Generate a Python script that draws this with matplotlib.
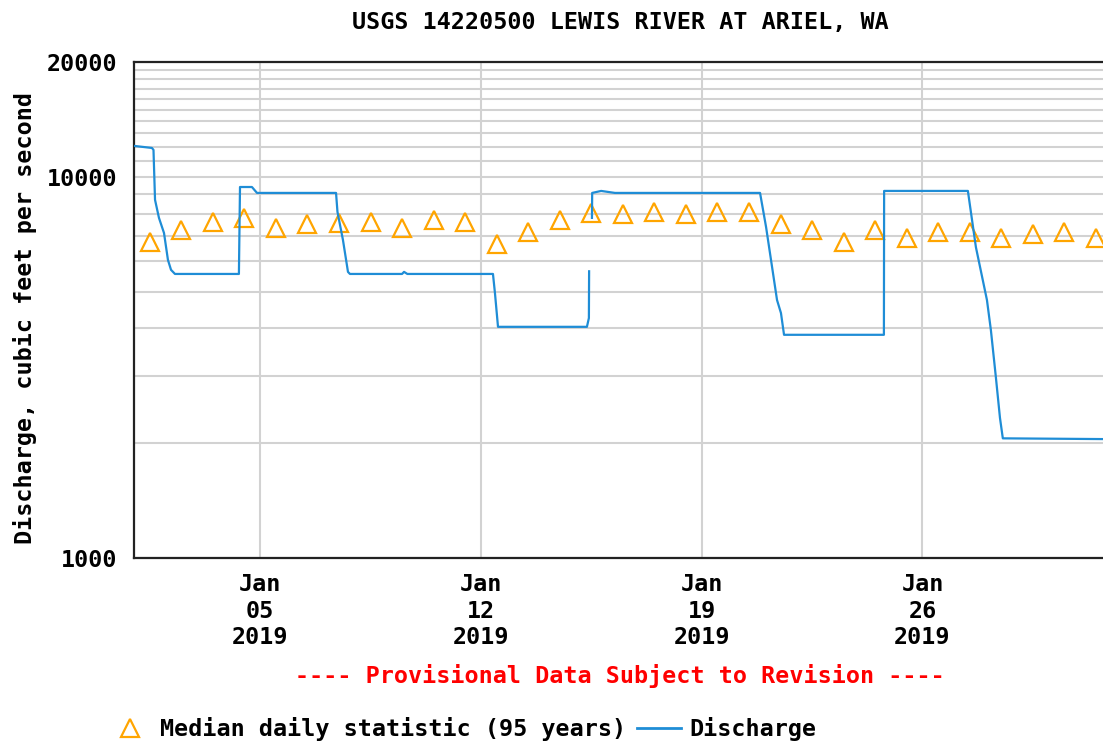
import numpy as np
import pandas as pd
import matplotlib
matplotlib.use('Agg')
import matplotlib.pyplot as plt
from matplotlib.lines import Line2D
from matplotlib.ticker import FixedLocator, NullFormatter

# Andmed (loetud pildilt)
q_times = [
    "2019-01-01 00:00", "2019-01-01 13:40", "2019-01-01 14:50", "2019-01-01 16:00",
    "2019-01-01 19:00", "2019-01-01 22:50", "2019-01-02 01:50", "2019-01-02 04:10",
    "2019-01-02 07:10", "2019-01-04 07:50", "2019-01-04 08:40", "2019-01-04 17:45",
    "2019-01-04 21:35", "2019-01-07 09:45", "2019-01-07 10:50", "2019-01-07 15:00",
    "2019-01-07 18:50", "2019-01-07 20:20", "2019-01-09 12:00", "2019-01-09 13:30",
    "2019-01-09 16:00", "2019-01-12 09:10", "2019-01-12 10:40", "2019-01-12 13:00",
    "2019-01-15 08:40", "2019-01-15 10:10", "2019-01-15 10:20", "2019-01-15 10:30",
    "2019-01-15 12:30", "2019-01-15 12:40", "2019-01-15 19:30", "2019-01-16 06:00",
    "2019-01-20 20:25", "2019-01-21 01:00", "2019-01-21 09:20", "2019-01-21 12:20",
    "2019-01-21 14:40", "2019-01-24 18:40", "2019-01-24 18:50", "2019-01-27 10:35",
    "2019-01-27 16:40", "2019-01-28 01:05", "2019-01-28 04:05", "2019-01-28 07:55",
    "2019-01-28 11:00", "2019-01-28 13:10", "2019-02-01 00:00",
]
q_values = [
    12050, 11900, 11760, 8700,
    7800, 7120, 6050, 5700,
    5560, 5560, 9400, 9400,
    9070, 9070, 8090, 6830,
    5630, 5560, 5560, 5630,
    5560, 5560, 4960, 4040,
    4040, 4260, 5650, np.nan,
    7800, 9070, 9180, 9070,
    9070, 7380, 4750, 4390,
    3850, 3850, 9180, 9180,
    6540, 4750, 3960, 2970,
    2330, 2060, 2050,
]

median_days = pd.date_range("2019-01-01 12:00", periods=31, freq="D")
median_values = [
    6750, 7250, 7600, 7800, 7340, 7520, 7560, 7600, 7340, 7700,
    7600, 6660, 7150, 7700, 8040, 7990, 8090, 7990, 8090, 8090,
    7520, 7250, 6750, 7250, 6910, 7160, 7160, 6910, 7080, 7160, 6910,
]

tick_dates = ["2019-01-05", "2019-01-12", "2019-01-19", "2019-01-26"]
tick_labels = ["Jan\n05\n2019", "Jan\n12\n2019", "Jan\n19\n2019", "Jan\n26\n2019"]
y_ticks = [1000, 10000, 20000]
y_tick_labels = ["1000", "10000", "20000"]

plt.rcParams['font.family'] = ['DejaVu Sans Mono']
plt.rcParams['font.weight'] = 'bold'
plt.rcParams['font.size'] = 16.8

orange = '#ffa500'
blue = '#1f8dd6'

fig = plt.figure(figsize=(11.03, 7.42), dpi=100)
ax = fig.add_axes([134 / 1103, 1 - 558 / 742, 972 / 1103, 496 / 742])

ax.plot(median_days, median_values, linestyle='none', marker='^', ms=13,
        mfc='none', mec=orange, mew=1.6, zorder=3)
ax.plot(pd.to_datetime(q_times), q_values, color=blue, lw=1.6, zorder=4)

ax.set_yscale('log')
ax.set_ylim(1000, 20000)
ax.yaxis.set_major_locator(FixedLocator(y_ticks))
ax.set_yticklabels(y_tick_labels)
minor = list(range(2000, 10000, 1000)) + list(range(11000, 20000, 1000))
ax.yaxis.set_minor_locator(FixedLocator(minor))
ax.yaxis.set_minor_formatter(NullFormatter())

start = pd.Timestamp("2019-01-01")
ax.set_xlim(start, start + pd.Timedelta(days=30.82))
ax.set_xticks(pd.to_datetime(tick_dates))
ax.set_xticklabels(tick_labels, linespacing=1.18)

ax.grid(True, which='both', color='#d2d2d2', lw=1.5)
ax.set_axisbelow(True)
ax.tick_params(which='both', length=0)
ax.tick_params(axis='y', pad=12)
ax.tick_params(axis='x', pad=11)
for s in ['left', 'top', 'bottom']:
    ax.spines[s].set_color('#222222')
    ax.spines[s].set_linewidth(1.6)
ax.spines['right'].set_visible(False)

fig.text(620 / 1103, 1 - 22 / 742, "USGS 14220500 LEWIS RIVER AT ARIEL, WA",
         ha='center', va='center')
fig.text(25 / 1103, 1 - 318 / 742, "Discharge, cubic feet per second",
         rotation=90, ha='center', va='center')
fig.text(620 / 1103, 1 - 676 / 742, "---- Provisional Data Subject to Revision ----",
         ha='center', va='center', color='red')

handles = [
    Line2D([], [], linestyle='none', marker='^', ms=13, mfc='none', mec=orange, mew=1.6),
    Line2D([], [], color=blue, lw=2),
]
fig.legend(handles, ["Median daily statistic (95 years)", "Discharge"],
           loc='center left', bbox_to_anchor=(108 / 1103, 1 - 729 / 742),
           ncol=2, frameon=False, handlelength=1.9, handletextpad=0.35,
           columnspacing=0.45, borderaxespad=0, borderpad=0)

fig.savefig('out.png', dpi=100)
